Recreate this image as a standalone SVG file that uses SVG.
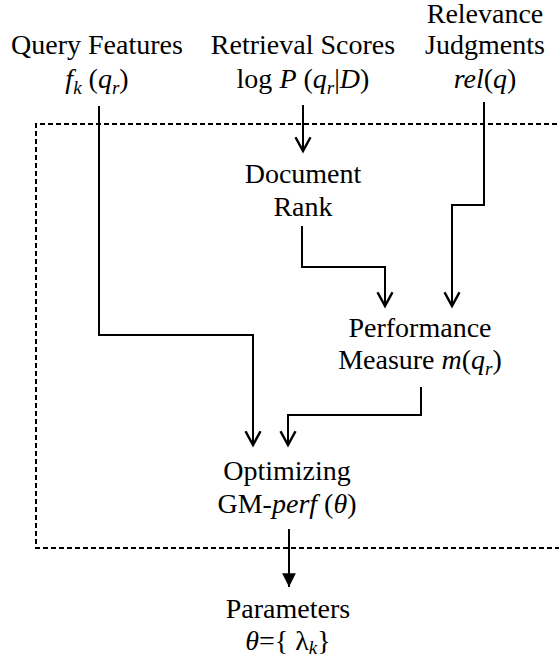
<svg xmlns="http://www.w3.org/2000/svg" width="559" height="659" viewBox="0 0 559 659">
<style>
text{font-family:"Liberation Serif","Times New Roman",serif;font-size:28px;fill:#000;text-anchor:middle}
.i{font-style:italic}
.s{font-size:19px}
.c{fill:none;stroke:#000;stroke-width:2}
.d{fill:none;stroke:#000;stroke-width:2;stroke-dasharray:5 3}
</style>
<defs>
<marker id="open" markerUnits="userSpaceOnUse" markerWidth="20" markerHeight="20" refX="0" refY="0" viewBox="-14 -8 16 16" orient="auto" overflow="visible">
<path d="M-11,-6 L0,0 L-11,6" fill="none" stroke="#000" stroke-width="2"/>
</marker>
<marker id="fill" markerUnits="userSpaceOnUse" markerWidth="20" markerHeight="20" refX="0" refY="0" viewBox="-14 -8 16 16" orient="auto" overflow="visible">
<path d="M-11,-5.5 L0,0 L-11,5.5 Z" fill="#000" stroke="none"/>
</marker>
</defs>
<path class="d" d="M565,124 H36 V548 H565"/>
<g id="connectors">
<path class="c" d="M303,105 V151" marker-end="url(#open)"/>
<path class="c" d="M484,102 V205 H452 V306" marker-end="url(#open)"/>
<path class="c" d="M302,226 V267 H385 V306" marker-end="url(#open)"/>
<path class="c" d="M99,106 V335 H253 V445" marker-end="url(#open)"/>
<path class="c" d="M421,387 V415 H288 V445" marker-end="url(#open)"/>
<path class="c" d="M289,529 V587" marker-end="url(#fill)"/>
</g>
<g id="query"><text x="97" y="54">Query Features</text><text x="97" y="88"><tspan class="i">f</tspan><tspan class="i s" dy="6">k</tspan><tspan dy="-6"> (</tspan><tspan class="i">q</tspan><tspan class="i s" dy="6">r</tspan><tspan dy="-6">)</tspan></text></g>
<g id="retrieval"><text x="303" y="54">Retrieval Scores</text><text x="303" y="88">log <tspan class="i">P</tspan> (<tspan class="i">q</tspan><tspan class="i s" dy="6">r</tspan><tspan dy="-6">|</tspan><tspan class="i">D</tspan>)</text></g>
<g id="relevance"><text x="485" y="23">Relevance</text><text x="485" y="54">Judgments</text><text x="485" y="88"><tspan class="i">rel</tspan>(<tspan class="i">q</tspan>)</text></g>
<g id="docrank"><text x="303" y="183">Document</text><text x="303" y="216">Rank</text></g>
<g id="perf"><text x="420" y="337">Performance</text><text x="420" y="369">Measure <tspan class="i">m</tspan>(<tspan class="i">q</tspan><tspan class="i s" dy="6">r</tspan><tspan dy="-6">)</tspan></text></g>
<g id="optim"><text x="287" y="480">Optimizing</text><text x="287" y="513">GM-<tspan class="i">perf</tspan> (<tspan class="i">θ</tspan>)</text></g>
<g id="params"><text x="288" y="618">Parameters</text><text x="288" y="650"><tspan class="i">θ</tspan>={ λ<tspan class="i s" dy="4">k</tspan><tspan dy="-4">}</tspan></text></g>
</svg>
